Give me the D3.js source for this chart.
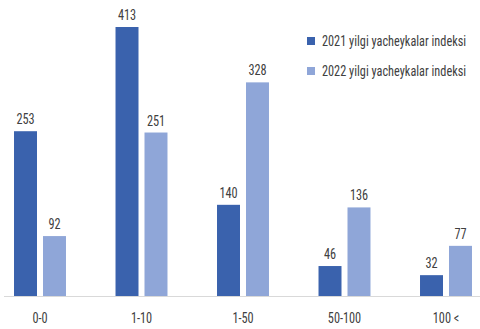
<!DOCTYPE html>
<html>
<head>
<meta charset="utf-8">
<script src="https://cdn.jsdelivr.net/npm/d3@7.9.0/dist/d3.min.js"></script>
<style>
  body { margin: 0; background: #fff; }
  svg text { font-family: "Roboto Condensed", Roboto, "Liberation Sans Narrow", sans-serif; fill: #404040; }
</style>
</head>
<body>
<div id="chart"></div>
<script>
// Data
const categories = ["0-0", "1-10", "1-50", "50-100", "100 <"];
const seriesNames = ["2021 yilgi yacheykalar indeksi", "2022 yilgi yacheykalar indeksi"];
const values2021 = [253, 413, 140, 46, 32];
const values2022 = [92, 251, 328, 136, 77];
const colors = ["#3a62ad", "#8fa6d8"];

const width = 480;
const height = 329;
const baseline = 296;
const squeeze = 0.82; // the reference uses a condensed face

const rows = categories.map((c, i) => ({ cat: c, vals: [values2021[i], values2022[i]] }));

const svg = d3.select("#chart").append("svg")
  .attr("width", width)
  .attr("height", height);

// category bands (centres at ~40, 142, 243, 345, 446)
const x0 = d3.scaleBand()
  .domain(categories)
  .range([-10.75, 496.75])
  .paddingInner(0.488)
  .paddingOuter(0.244);

const x1 = d3.scaleBand()
  .domain([0, 1])
  .range([0, x0.bandwidth()])
  .paddingInner(0.207);

const y = d3.scaleLinear()
  .domain([0, 413])
  .range([baseline, 27]);

// bars
const groups = svg.append("g")
  .selectAll("g")
  .data(rows)
  .join("g")
  .attr("transform", d => `translate(${x0(d.cat)},0)`);

groups.selectAll("rect")
  .data(d => d.vals.map((v, k) => ({ v, k })))
  .join("rect")
  .attr("x", d => x1(d.k))
  .attr("y", d => y(d.v))
  .attr("width", x1.bandwidth())
  .attr("height", d => baseline - y(d.v))
  .attr("fill", d => colors[d.k]);

groups.selectAll("text.val")
  .data(d => d.vals.map((v, k) => ({ v, k })))
  .join("text")
  .attr("class", "val")
  .attr("x", d => x1(d.k) + x1.bandwidth() / 2)
  .attr("y", d => y(d.v) - 7)
  .attr("text-anchor", "middle")
  .style("font-size", "15px")
  .text(d => d.v);

// x axis
const xAxis = svg.append("g")
  .attr("transform", `translate(0,${baseline})`)
  .call(d3.axisBottom(x0).tickSize(0).tickPadding(16));
xAxis.select(".domain")
  .attr("d", `M4,0.5H480`)
  .attr("stroke", "#d9d9d9");
xAxis.selectAll("text")
  .style("font-size", "15px")
  .attr("fill", "#404040");

// legend
const legend = svg.append("g")
  .selectAll("g")
  .data(seriesNames)
  .join("g")
  .attr("transform", (d, i) => `translate(307,${37 + i * 30})`);
legend.append("rect")
  .attr("width", 8)
  .attr("height", 8)
  .attr("fill", (d, i) => colors[i]);
legend.append("text")
  .attr("x", 15)
  .attr("y", 9)
  .style("font-size", "15px")
  .text(d => d);

// narrow every label horizontally to mimic the condensed face
svg.selectAll("text").each(function () {
  const t = d3.select(this);
  const x = +t.attr("x") || 0;
  t.attr("x", x / squeeze).attr("transform", `scale(${squeeze},1)`);
});
</script>
</body>
</html>
